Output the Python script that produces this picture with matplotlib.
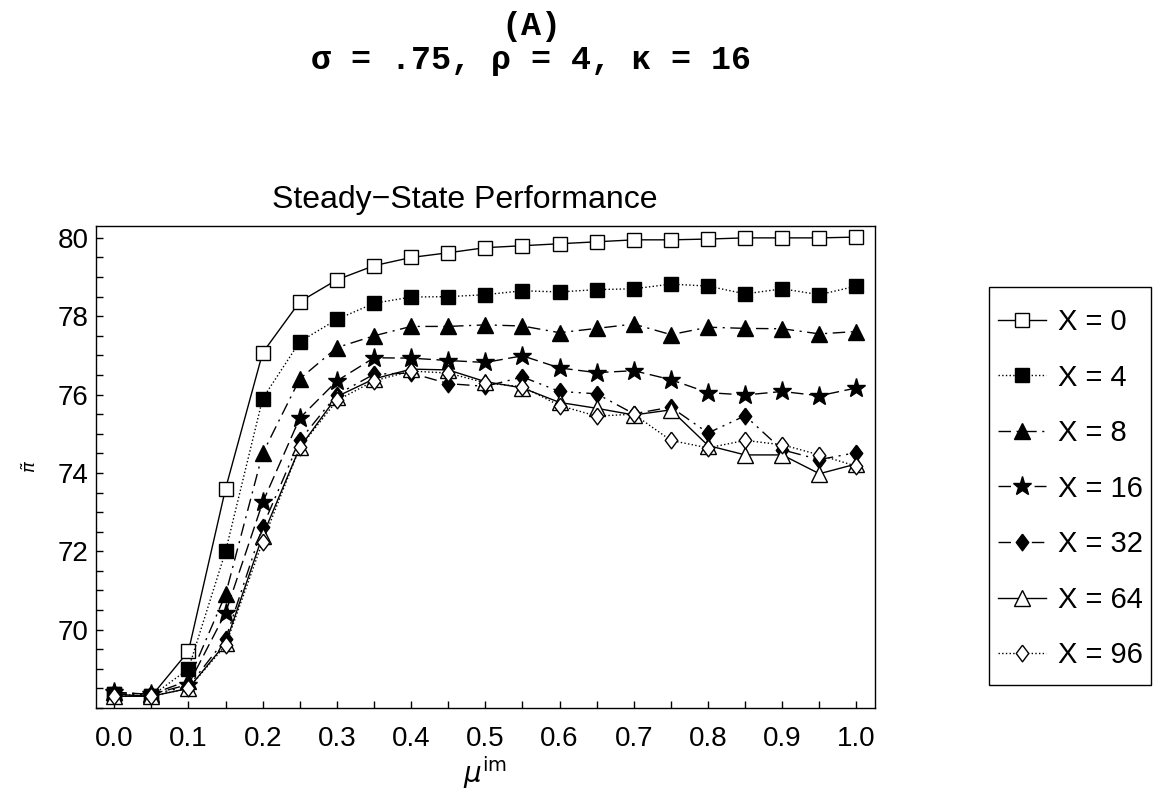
import matplotlib
matplotlib.use("Agg")
import matplotlib.pyplot as plt
from matplotlib.ticker import MultipleLocator
from matplotlib.patches import Rectangle

plt.rcParams['font.family'] = ['Liberation Sans', 'DejaVu Sans']

# mu^im values
mu = [0.0, 0.05, 0.1, 0.15, 0.2, 0.25, 0.3, 0.35, 0.4, 0.45, 0.5,
      0.55, 0.6, 0.65, 0.7, 0.75, 0.8, 0.85, 0.9, 0.95, 1.0]

x0 = [68.35, 68.3, 69.45, 73.6, 77.07, 78.37, 78.93, 79.29, 79.5, 79.62, 79.75,
      79.8, 79.85, 79.9, 79.95, 79.95, 79.97, 80.0, 80.0, 80.0, 80.02]
x4 = [68.35, 68.3, 69.0, 72.0, 75.9, 77.35, 77.92, 78.33, 78.49, 78.5, 78.55,
      78.65, 78.62, 78.68, 78.7, 78.82, 78.77, 78.57, 78.7, 78.55, 78.77]
x8 = [68.4, 68.35, 68.7, 70.9, 74.5, 76.4, 77.2, 77.5, 77.74, 77.74, 77.78,
      77.75, 77.58, 77.69, 77.8, 77.53, 77.72, 77.69, 77.68, 77.55, 77.61]
x16 = [68.4, 68.35, 68.6, 70.43, 73.25, 75.4, 76.35, 76.94, 76.93, 76.87, 76.82,
       76.99, 76.68, 76.56, 76.61, 76.38, 76.05, 75.99, 76.08, 75.97, 76.17]
x32 = [68.35, 68.35, 68.55, 69.76, 72.63, 74.83, 76.0, 76.52, 76.55, 76.28, 76.21,
       76.45, 76.08, 76.02, 75.51, 75.68, 75.02, 75.46, 74.59, 74.34, 74.52]
x64 = [68.3, 68.3, 68.5, 69.65, 72.4, 74.65, 75.95, 76.4, 76.65, 76.63, 76.33,
       76.17, 75.8, 75.65, 75.48, 75.61, 74.7, 74.46, 74.46, 73.98, 74.23]
x96 = [68.3, 68.3, 68.5, 69.6, 72.25, 74.65, 75.85, 76.35, 76.6, 76.55, 76.3,
       76.2, 75.72, 75.45, 75.5, 74.83, 74.64, 74.83, 74.72, 74.46, 74.17]

labels = ['X = 0', 'X = 4', 'X = 8', 'X = 16', 'X = 32', 'X = 64', 'X = 96']

diamond = [(0, 1), (0.75, 0), (0, -1), (-0.75, 0), (0, 1)]

W, H = 1157, 794
fig = plt.figure(figsize=(W / 100, H / 100), dpi=100)
ax = fig.add_axes([0.0827, 0.1083, 0.6736, 0.6074])

ax.plot(mu, x0, '-', color='k', lw=1, marker='s', ms=10, mfc='white', mec='k', mew=1, label=labels[0])
ax.plot(mu, x4, ':', color='k', lw=1, marker='s', ms=10, mfc='k', mec='k', label=labels[1])
ax.plot(mu, x8, color='k', lw=1, ls=(0, (9, 4, 1.5, 4)), marker='^', ms=11, mfc='k', mec='k', label=labels[2])
ax.plot(mu, x16, color='k', lw=1, ls=(0, (9, 4)), marker='*', ms=14, mfc='k', mec='k', label=labels[3])
ax.plot(mu, x32, color='k', lw=1, ls=(0, (9, 4, 1.5, 4, 1.5, 4)), marker=diamond, ms=12, mfc='k', mec='k', label=labels[4])
ax.plot(mu, x64, '-', color='k', lw=1, marker='^', ms=11, mfc='white', mec='k', mew=1, label=labels[5])
ax.plot(mu, x96, ':', color='k', lw=1, marker=diamond, ms=12, mfc='white', mec='k', mew=1, label=labels[6])

ax.set_xlim(-0.025, 1.025)
ax.set_ylim(68.0, 80.31)
ax.set_xticks([0.0, 0.1, 0.2, 0.3, 0.4, 0.5, 0.6, 0.7, 0.8, 0.9, 1.0])
ax.set_yticks([70, 72, 74, 76, 78, 80])
ax.xaxis.set_minor_locator(MultipleLocator(0.05))
ax.yaxis.set_minor_locator(MultipleLocator(0.5))
ax.tick_params(which='both', direction='in', length=5, width=1, top=False, right=False,
               labelsize=20)
ax.tick_params(axis='x', which='both', pad=13)
ax.tick_params(axis='y', which='both', pad=5)
for s in ax.spines.values():
    s.set_linewidth(1)

ax.set_xlabel(r'$\mu^{\mathrm{im}}$', fontsize=20, labelpad=2)
ax.set_ylabel(r'$\tilde{\pi}$', fontsize=13)
ax.yaxis.set_label_coords(-0.072, 0.5)

fig.text(465 / W, 1 - 200 / H, 'Steady\u2212State Performance', fontsize=23,
         ha='center', va='center')
fig.text(531 / W, 1 - 26 / H, '(A)', family='Liberation Mono', weight='bold',
         fontsize=24, ha='center', va='center')
fig.text(531 / W, 1 - 61 / H, '\u03c3 = .75, \u03c1 = 4, \u03ba = 16', family='Liberation Mono',
         weight='bold', fontsize=24, ha='center', va='center')

# legend drawn without frame, box added by hand
fig.legend(loc='upper left', bbox_to_anchor=(998 / W, 1 - 308 / H), fontsize=21,
           frameon=False, borderaxespad=0, borderpad=0,
           handlelength=1.65, labelspacing=0.945, handletextpad=0.4)
fig.patches.append(Rectangle((989 / W, 1 - 685 / H), (1151 - 989) / W, (685 - 287) / H,
                             transform=fig.transFigure, fill=False, edgecolor='k', lw=1))

fig.savefig('out.png', dpi=100)
